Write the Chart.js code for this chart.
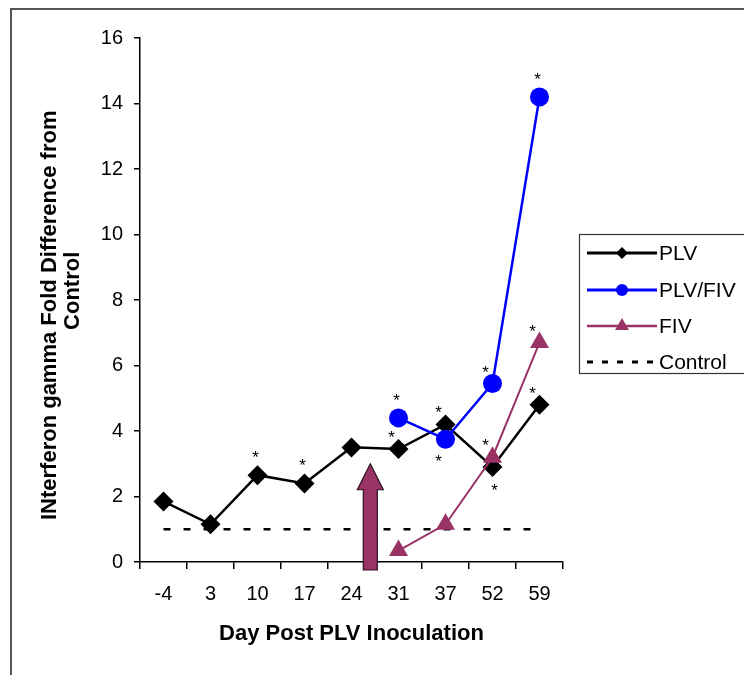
<!DOCTYPE html>
<html>
<head>
<meta charset="utf-8">
<script src="https://cdn.jsdelivr.net/npm/chart.js@4/dist/chart.umd.min.js"></script>
<style>
  html, body { margin: 0; padding: 0; background: #fff; }
  canvas { display: block; }
</style>
</head>
<body>
<canvas id="chart" width="744" height="675"></canvas>
<script>
// values
const days = ['-4', '3', '10', '17', '24', '31', '37', '52', '59'];
const plv = [1.85, 1.15, 2.65, 2.4, 3.5, 3.45, 4.2, 2.9, 4.8];
const plvFiv = [null, null, null, null, null, 4.4, 3.75, 5.45, 14.2];
const fiv = [null, null, null, null, null, 0.35, 1.15, 3.2, 6.7];
const control = [1, 1, 1, 1, 1, 1, 1, 1, 1];

// significance stars: a = above, l = above left, b = below
const plvStars = ['', '', 'a', 'a', '', 'l', 'l', 'b', 'l'];
const plvFivStars = ['', '', '', '', '', 'a', 'bl', 'l', 'a'];
const fivStars = ['', '', '', '', '', '', '', 'l', 'l'];

// inoculation arrow, between day 24 and 31
const arrowAt = 4.4;
const arrowTop = 3;

const PLUM = '#993366';
const FONT = "'Liberation Sans', Arial, sans-serif";
Chart.defaults.font.family = FONT;
Chart.defaults.color = '#000';

const starOffsets = {
    a: [-2, -23],
    l: [-7, -17],
    b: [2, 18],
    bl: [-7, 17]
};

const starsPlugin = {
    id: 'stars',
    afterDatasetsDraw(chart) {
        const ctx = chart.ctx;
        const lists = [plvStars, plvFivStars, fivStars];
        ctx.save();
        ctx.font = '17px ' + FONT;
        ctx.fillStyle = '#000';
        ctx.textAlign = 'center';
        ctx.textBaseline = 'alphabetic';
        lists.forEach((list, di) => {
            const meta = chart.getDatasetMeta(di);
            list.forEach((s, i) => {
                if (!s) return;
                const p = meta.data[i];
                const [dx, dy] = starOffsets[s];
                ctx.fillText('*', p.x + dx, p.y + dy + 11);
            });
        });
        ctx.restore();
    }
};

const arrowPlugin = {
    id: 'arrow',
    afterDraw(chart) {
        const ctx = chart.ctx;
        const x = chart.scales.x.getPixelForValue(arrowAt);
        const top = chart.scales.y.getPixelForValue(arrowTop);
        const bottom = chart.chartArea.bottom + 8;
        const head = 26;
        ctx.save();
        ctx.beginPath();
        ctx.moveTo(x, top);
        ctx.lineTo(x + 13, top + head);
        ctx.lineTo(x + 7, top + head);
        ctx.lineTo(x + 7, bottom);
        ctx.lineTo(x - 7, bottom);
        ctx.lineTo(x - 7, top + head);
        ctx.lineTo(x - 13, top + head);
        ctx.closePath();
        ctx.fillStyle = PLUM;
        ctx.fill();
        ctx.lineWidth = 1.2;
        ctx.strokeStyle = '#2a1020';
        ctx.stroke();
        ctx.restore();
    }
};

function marker(ctx, style, x, y, r) {
    ctx.beginPath();
    if (style === 'rectRot') {
        ctx.moveTo(x, y - r); ctx.lineTo(x + r, y); ctx.lineTo(x, y + r); ctx.lineTo(x - r, y);
    } else if (style === 'circle') {
        ctx.arc(x, y, r, 0, Math.PI * 2);
    } else if (style === 'triangle') {
        ctx.moveTo(x, y - r);
        ctx.lineTo(x + r * 0.866, y + r * 0.5);
        ctx.lineTo(x - r * 0.866, y + r * 0.5);
    } else {
        return;
    }
    ctx.closePath();
    ctx.fill();
}

const frameLegendPlugin = {
    id: 'frameLegend',
    beforeDraw(chart) {
        const ctx = chart.ctx;
        ctx.save();
        ctx.strokeStyle = '#555';
        ctx.lineWidth = 2;
        ctx.strokeRect(11, 9, 800, 800);
        ctx.restore();
    },
    afterDraw(chart) {
        const ctx = chart.ctx;
        ctx.save();
        ctx.fillStyle = '#fff';
        ctx.fillRect(580, 235, 200, 139);
        ctx.strokeStyle = '#333';
        ctx.lineWidth = 1.2;
        ctx.strokeRect(579.5, 234.5, 200, 139);
        ctx.font = '21px ' + FONT;
        ctx.textBaseline = 'middle';
        ctx.textAlign = 'left';
        const rowY = [253, 290, 326, 362];
        chart.data.datasets.forEach((ds, i) => {
            const y = rowY[i];
            ctx.strokeStyle = ds.borderColor;
            ctx.lineWidth = ds.borderWidth + 0.5;
            ctx.setLineDash(ds.borderDash ? [6, 9] : []);
            ctx.beginPath();
            ctx.moveTo(587, y);
            ctx.lineTo(657, y);
            ctx.stroke();
            ctx.setLineDash([]);
            ctx.fillStyle = ds.backgroundColor;
            const r = ds.pointStyle === 'triangle' ? 8 : 6;
            marker(ctx, ds.pointStyle, 622, y, r);
            ctx.fillStyle = '#000';
            ctx.fillText(ds.label, 659, y + 1);
        });
        ctx.restore();
    }
};

new Chart(document.getElementById('chart'), {
    type: 'line',
    data: {
        labels: days,
        datasets: [
            {
                label: 'PLV', data: plv, order: 3,
                borderColor: '#000', backgroundColor: '#000', borderWidth: 2.5,
                pointStyle: 'rectRot', pointRadius: 10, pointBorderWidth: 0
            },
            {
                label: 'PLV/FIV', data: plvFiv, order: 2,
                borderColor: '#0000ff', backgroundColor: '#0000ff', borderWidth: 2.5,
                pointStyle: 'circle', pointRadius: 9.5, pointBorderWidth: 0
            },
            {
                label: 'FIV', data: fiv, order: 1,
                borderColor: PLUM, backgroundColor: PLUM, borderWidth: 2,
                pointStyle: 'triangle', pointRadius: 11, pointBorderWidth: 0
            },
            {
                label: 'Control', data: control, order: 4,
                borderColor: '#000', backgroundColor: '#000', borderWidth: 2.5,
                borderDash: [7, 13], pointRadius: 0
            }
        ]
    },
    options: {
        responsive: false,
        animation: false,
        layout: { padding: { left: 20, top: 38, right: 181, bottom: 0 } },
        plugins: {
            legend: { display: false },
            tooltip: { enabled: false }
        },
        scales: {
            x: {
                offset: true,
                grid: { offset: true, drawOnChartArea: false, tickLength: 7, color: '#000', lineWidth: 1.5 },
                border: { color: '#000', width: 1.5 },
                ticks: { padding: 13, font: { size: 20 } },
                title: {
                    display: true, text: 'Day Post PLV Inoculation',
                    font: { size: 22, weight: 'bold' },
                    padding: { top: 15, bottom: 28 }
                },
                afterFit(scale) { scale.height = 113; }
            },
            y: {
                min: 0, max: 16,
                grid: { drawOnChartArea: false, tickLength: 6, color: '#000', lineWidth: 1.5 },
                border: { color: '#000', width: 1.5 },
                ticks: { stepSize: 2, padding: 11, font: { size: 20 } },
                title: {
                    display: true,
                    // trailing / leading spaces nudge each line like the original
                    text: ['INterferon gamma Fold Difference from     ', '   Control'],
                    font: { size: 22, weight: 'bold', lineHeight: 1.05 },
                    padding: { top: 18, bottom: 0 }
                },
                afterFit(scale) { scale.width = 120; }
            }
        }
    },
    plugins: [starsPlugin, arrowPlugin, frameLegendPlugin]
});
</script>
</body>
</html>
